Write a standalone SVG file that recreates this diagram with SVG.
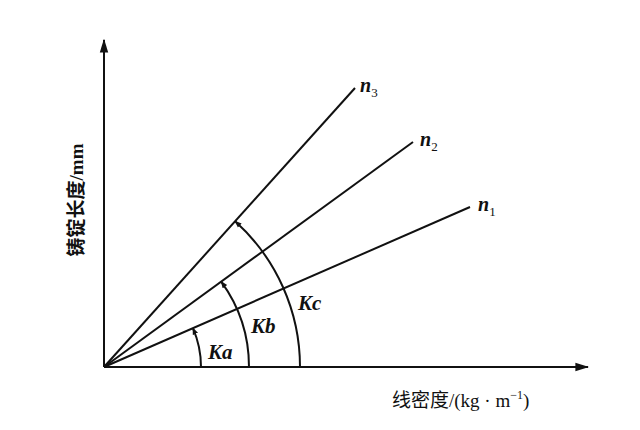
<svg xmlns="http://www.w3.org/2000/svg" width="640" height="430" viewBox="0 0 640 430">
<style>
.l{stroke:#111;stroke-width:2;fill:none}
.t{font-family:"Liberation Serif","Noto Sans CJK SC",serif;font-weight:bold;font-style:italic;fill:#111}
.s{font-style:normal;font-weight:normal}
.c{font-family:"Liberation Serif","Noto Sans CJK SC",serif;fill:#111;font-size:19px}
</style>
<defs>
<marker id="a" viewBox="0 0 10 10" refX="9" refY="5" markerWidth="7" markerHeight="7" orient="auto-start-reverse" markerUnits="userSpaceOnUse"><path d="M0,1 L10,5 L0,9 z" fill="#111"/></marker>
<marker id="b" viewBox="0 0 10 10" refX="9" refY="5" markerWidth="14" markerHeight="14" orient="auto" markerUnits="userSpaceOnUse"><path d="M0,2 L10,5 L0,8 z" fill="#111"/></marker>
</defs>
<rect width="640" height="430" fill="#fff"/>
<g id="connectors">
<line class="l" x1="104" y1="367" x2="104" y2="40" marker-end="url(#b)"/>
<line class="l" x1="104" y1="367" x2="588" y2="367" marker-end="url(#b)"/>
<line class="l" x1="104" y1="367" x2="470" y2="207"/>
<line class="l" x1="104" y1="367" x2="413" y2="142"/>
<line class="l" x1="104" y1="367" x2="355" y2="88"/>
<path class="l" d="M201,367 A97,97 0 0 0 192.9,328.2" marker-end="url(#a)"/>
<path class="l" d="M249,367 A145,145 0 0 0 221.2,281.6" marker-end="url(#a)"/>
<path class="l" d="M300,367 A196,196 0 0 0 235.1,221.3" marker-end="url(#a)"/>
</g>
<g id="labels">
<text class="t" x="360" y="92" font-size="20">n<tspan class="s" font-size="13" dy="5">3</tspan></text>
<text class="t" x="420" y="146" font-size="20">n<tspan class="s" font-size="13" dy="5">2</tspan></text>
<text class="t" x="478" y="211" font-size="20">n<tspan class="s" font-size="13" dy="5">1</tspan></text>
<text class="t" x="208" y="359" font-size="21">Ka</text>
<text class="t" x="251" y="333" font-size="21">Kb</text>
<text class="t" x="298" y="310" font-size="21">Kc</text>
<text class="c" transform="translate(83,200) rotate(-90)" text-anchor="middle" font-size="20" font-weight="bold">铸锭长度/mm</text>
<text class="c" x="392" y="407">线密度/(kg · m<tspan font-size="12" dy="-8">−1</tspan><tspan dy="8">)</tspan></text>
</g>
</svg>
